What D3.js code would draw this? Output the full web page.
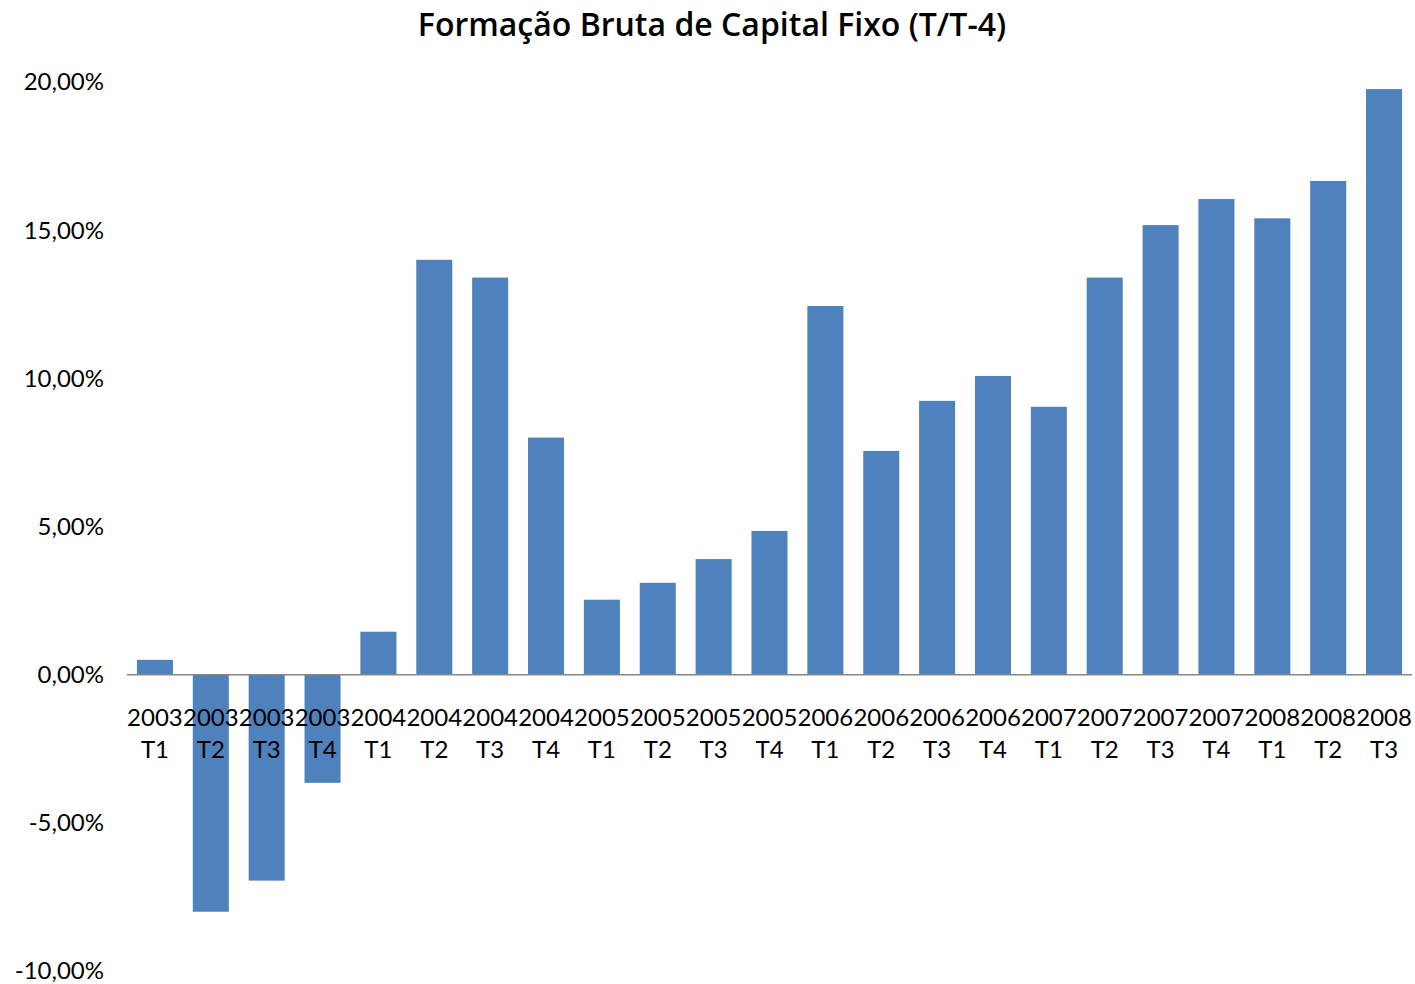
<!DOCTYPE html>
<html>
<head>
<meta charset="utf-8">
<script src="https://cdn.jsdelivr.net/npm/d3@7"></script>
<style>
  body { margin: 0; background: #fff; }
  svg { display: block; font-family: Lato, "Open Sans", sans-serif; }
</style>
</head>
<body>
<div id="container"><svg></svg></div>
<script>
// quarters and year-on-year growth (%)
var years = ['2003', '2003', '2003', '2003', '2004', '2004', '2004', '2004',
    '2005', '2005', '2005', '2005', '2006', '2006', '2006', '2006',
    '2007', '2007', '2007', '2007', '2008', '2008', '2008'];
var quarters = ['T1', 'T2', 'T3', 'T4', 'T1', 'T2', 'T3', 'T4',
    'T1', 'T2', 'T3', 'T4', 'T1', 'T2', 'T3', 'T4',
    'T1', 'T2', 'T3', 'T4', 'T1', 'T2', 'T3'];
var values = [0.5, -8.0, -6.95, -3.65, 1.45, 14.0, 13.4, 8.0,
    2.53, 3.1, 3.9, 4.85, 12.44, 7.55, 9.24, 10.08,
    9.04, 13.4, 15.17, 16.05, 15.4, 16.66, 19.76];
var yTicks = [-10, -5, 0, 5, 10, 15, 20];

var width = 1415, height = 984;
var svg = d3.select('#container svg')
    .attr('width', width)
    .attr('height', height);

var x = d3.scaleBand()
    .domain(d3.range(values.length))
    .range([127, 1412])
    .paddingInner(0.355)
    .paddingOuter(0.1775);

var y = d3.scaleLinear()
    .domain([-10, 20])
    .range([971, 82]);

// title
svg.append('text')
    .attr('x', 712)
    .attr('y', 36)
    .attr('text-anchor', 'middle')
    .attr('font-family', '"Open Sans", Lato, sans-serif')
    .attr('font-size', 32)
    .attr('font-weight', 600)
    .attr('fill', '#000')
    .text('Formação Bruta de Capital Fixo (T/T-4)');

// y axis labels, comma decimals and plain hyphen
var fmt = function(d) { return d3.format('.2f')(d).replace('.', ',').replace('\u2212', '-') + '%'; };
svg.selectAll('.ylab')
    .data(yTicks)
    .enter().append('text')
    .attr('class', 'ylab')
    .attr('x', 104)
    .attr('y', function(d) { return y(d); })
    .attr('dy', '0.35em')
    .attr('text-anchor', 'end')
    .attr('font-size', 24)
    .attr('fill', '#000')
    .text(fmt);

// bars
svg.selectAll('.bar')
    .data(values)
    .enter().append('rect')
    .attr('class', 'bar')
    .attr('x', function(d, i) { return x(i); })
    .attr('width', x.bandwidth())
    .attr('y', function(d) { return y(Math.max(0, d)); })
    .attr('height', function(d) { return Math.abs(y(d) - y(0)); })
    .attr('fill', '#4F81BD');

// zero line
svg.append('line')
    .attr('x1', 127)
    .attr('x2', 1412)
    .attr('y1', y(0))
    .attr('y2', y(0))
    .attr('stroke', '#868686')
    .attr('stroke-width', 1.5);

// category labels, two lines
var cat = svg.selectAll('.xlab')
    .data(values)
    .enter().append('g')
    .attr('class', 'xlab')
    .attr('transform', function(d, i) { return 'translate(' + (x(i) + x.bandwidth() / 2) + ',0)'; });
cat.append('text')
    .attr('y', 718)
    .attr('dy', '0.35em')
    .attr('text-anchor', 'middle')
    .attr('font-size', 24)
    .attr('fill', '#000')
    .text(function(d, i) { return years[i]; });
cat.append('text')
    .attr('y', 750)
    .attr('dy', '0.35em')
    .attr('text-anchor', 'middle')
    .attr('font-size', 24)
    .attr('fill', '#000')
    .text(function(d, i) { return quarters[i]; });
</script>
</body>
</html>
